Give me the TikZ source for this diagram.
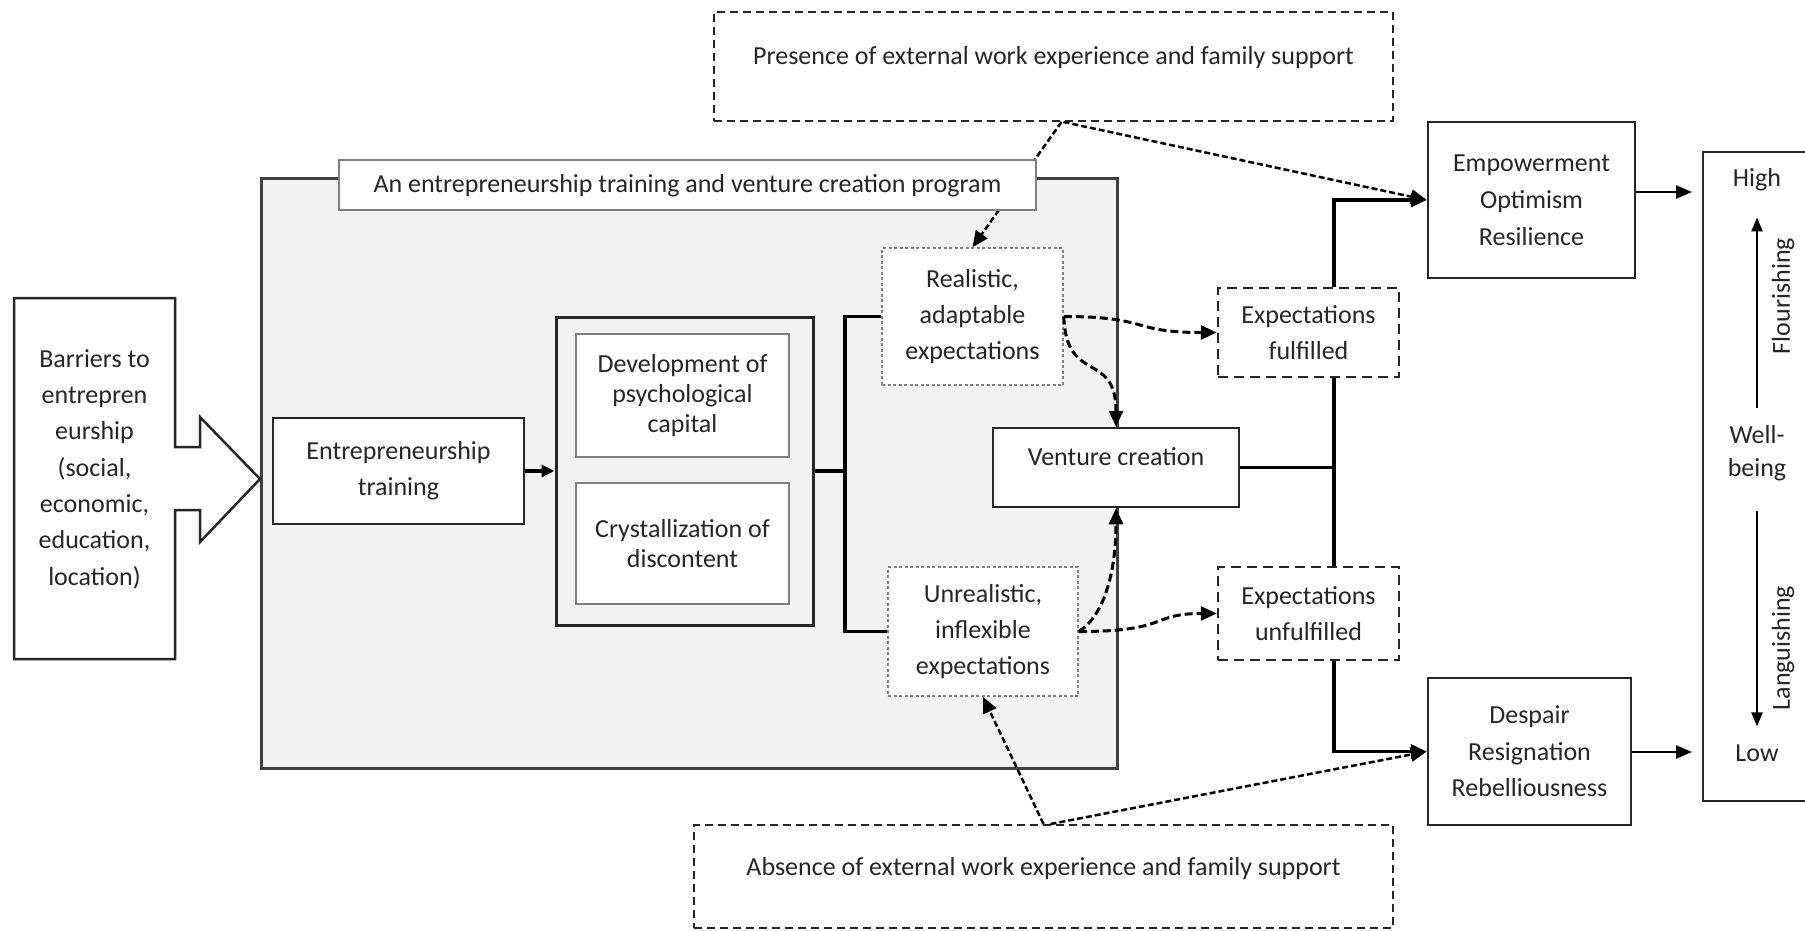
\documentclass[tikz,border=0pt]{standalone}
\usepackage{fontspec}
\setmainfont{Carlito}
\usetikzlibrary{arrows.meta}

\tikzset{
  stagebox/.style={draw=black!85, line width=2.5pt, fill=white, align=center, inner sep=0pt},
  innerbox/.style={stagebox, draw=black!50, line width=2pt, font=\fontsize{26}{30}\selectfont},
  mindbox/.style={stagebox, draw=black!50, line width=1.6pt, dash pattern=on 3pt off 2.5pt},
  expbox/.style={stagebox, line width=2.5pt, dash pattern=on 10pt off 6pt},
  condbox/.style={stagebox, line width=2pt, dash pattern=on 8pt off 5pt},
  progbox/.style={draw=black!75, line width=3pt, fill=black!5},
  labelbox/.style={stagebox, draw=black!50, line width=2pt, text height=19pt, text depth=5pt},
  scaletext/.style={inner sep=0pt, align=center},
  solidhead/.style={-{Triangle[length=16pt,width=14pt]}},
  treelink/.style={line width=3.5pt, draw=black},
  outlink/.style={line width=2.5pt, -{Triangle[length=16pt,width=13pt]}},
  mindlink/.style={line width=3pt, dash pattern=on 8pt off 4pt, solidhead},
  condlink/.style={line width=2.5pt, dash pattern=on 6pt off 3pt, solidhead},
  scalelink/.style={line width=2.5pt, -{Triangle[length=14pt,width=11pt]}},
}

\begin{document}
\begin{tikzpicture}[x=1pt, y=-1pt, font=\fontsize{26}{36}\selectfont,
    every node/.append style={text=black!85}]
  %%%%% START %%%%%
  \fill[white, use as bounding box] (0,0) rectangle (1805,930);

  % program frame
  \node[progbox, minimum width=856pt, minimum height=590pt] (program) at (689,473) {};

  % barriers block arrow
  \draw[line width=2.5pt, draw=black!85, fill=white] (14,298) -- (175,298) -- (175,447) -- (200,447)
    -- (200,417) -- (260,479) -- (200,542) -- (200,510) -- (175,510) -- (175,659) -- (14,659) -- cycle;
  \node[scaletext, font=\fontsize{26}{36.3}\selectfont] (barriers) at (94.5,469)
    {Barriers to\\entrepren\\eurship\\(social,\\economic,\\education,\\location)};

  % stages inside the program
  \node[stagebox, minimum width=251pt, minimum height=106pt] (training) at (398.5,471) {Entrepreneurship\\training};
  \node[stagebox, fill=none, line width=3pt, minimum width=257pt, minimum height=308pt] (psych) at (684.5,471) {};
  \node[innerbox, minimum width=213pt, minimum height=123pt] (devcap) at (682.5,395.5) {Development of\\psychological\\capital};
  \node[innerbox, minimum width=213pt, minimum height=121pt] (crystal) at (682.5,543.5) {Crystallization of\\discontent};

  \node[mindbox, minimum width=181pt, minimum height=137pt] (realistic) at (972.5,316.5) {Realistic,\\adaptable\\expectations};
  \node[mindbox, minimum width=190pt, minimum height=129pt] (unrealistic) at (983,631.5) {Unrealistic,\\inflexible\\expectations};
  \node[stagebox, minimum width=246pt, minimum height=79pt, text height=19pt, text depth=24pt] (venture) at (1116,467.5) {Venture creation};

  % outcomes
  \node[expbox, minimum width=181pt, minimum height=89pt] (fulfilled) at (1308.5,332.5) {Expectations\\fulfilled};
  \node[expbox, minimum width=181pt, minimum height=93pt] (unfulfilled) at (1308.5,613.5) {Expectations\\unfulfilled};
  \node[stagebox, minimum width=207pt, minimum height=156pt, font=\fontsize{26}{37}\selectfont] (empower) at (1531.5,200) {Empowerment\\Optimism\\Resilience};
  \node[stagebox, minimum width=203pt, minimum height=147pt, font=\fontsize{26}{36.5}\selectfont] (despair) at (1529.5,751.5) {Despair\\Resignation\\Rebelliousness};

  % well-being scale
  \node[stagebox, minimum width=127pt, minimum height=649pt] (scale) at (1766.5,476.5) {};
  \node[scaletext] (high) at (1757,180) {High};
  \node[scaletext] (low) at (1757,753) {Low};
  \node[scaletext, font=\fontsize{26}{33}\selectfont] (wellbeing) at (1757,453.5) {Well-\\being};
  \node[scaletext, rotate=90] (flourish) at (1783,296) {Flourishing};
  \node[scaletext, rotate=90] (languish) at (1783,648) {Languishing};

  % conditions
  \node[condbox, minimum width=679pt, minimum height=109pt, text height=19pt, text depth=24pt] (presence) at (1053.5,66.5) {Presence of external work experience and family support};
  \node[condbox, minimum width=699pt, minimum height=103pt, text height=19pt, text depth=22pt] (absence) at (1043.5,876.5) {Absence of external work experience and family support};

  % connectors
  \coordinate (fork) at (845,471);
  \coordinate (col) at (1334,467.5);
  \coordinate (hitip) at (1692,192);
  \coordinate (lotip) at (1692,752);

  \draw[treelink, -{Triangle[length=13pt,width=12pt]}] (training) -- (psych);
  \draw[treelink] (psych.east) -- (fork);
  \draw[treelink] (realistic.west) -| (fork) |- (unrealistic.west);
  \draw[treelink] (venture.east) -- (col);
  \draw[treelink, solidhead] (col |- fulfilled.north) |- (empower.west);
  \draw[treelink] (col |- fulfilled.south) -- (col |- unfulfilled.north);
  \draw[treelink, solidhead] (col |- unfulfilled.south) |- (despair.west);
  \draw[outlink] (empower.east |- hitip) -- (hitip);
  \draw[outlink] (despair.east |- lotip) -- (lotip);

  \draw[scalelink, shorten <=18pt, shorten >=26pt] (wellbeing) -- (high);
  \draw[scalelink, shorten <=30pt, shorten >=18pt] (wellbeing) -- (low);

  % expectation paths
  \draw[mindlink] (realistic.east) .. controls (1150,316.5) and (1130,332.5) .. (fulfilled.west);
  \draw[mindlink] (realistic.east) .. controls (1066,385) and (1116,350) .. (venture.north);
  \draw[mindlink] (unrealistic.east) .. controls (1105,615) and (1116,570) .. (venture.south);
  \draw[mindlink] (unrealistic.east) .. controls (1170,631.5) and (1150,613.5) .. (unfulfilled.west);

  \draw[condlink] ([xshift=8pt]presence.south) -- (realistic.north);
  \draw[condlink] ([xshift=10pt]presence.south) -- (empower.west);
  \draw[condlink] (absence.north) -- (unrealistic.south);
  \draw[condlink] ([xshift=7pt]absence.north) -- (despair.west);

  % program label on top
  \node[labelbox, minimum width=697pt, minimum height=50pt] (proglabel) at (687.5,185) {An entrepreneurship training and venture creation program};
  %%%%% END %%%%%
\end{tikzpicture}
\end{document}
